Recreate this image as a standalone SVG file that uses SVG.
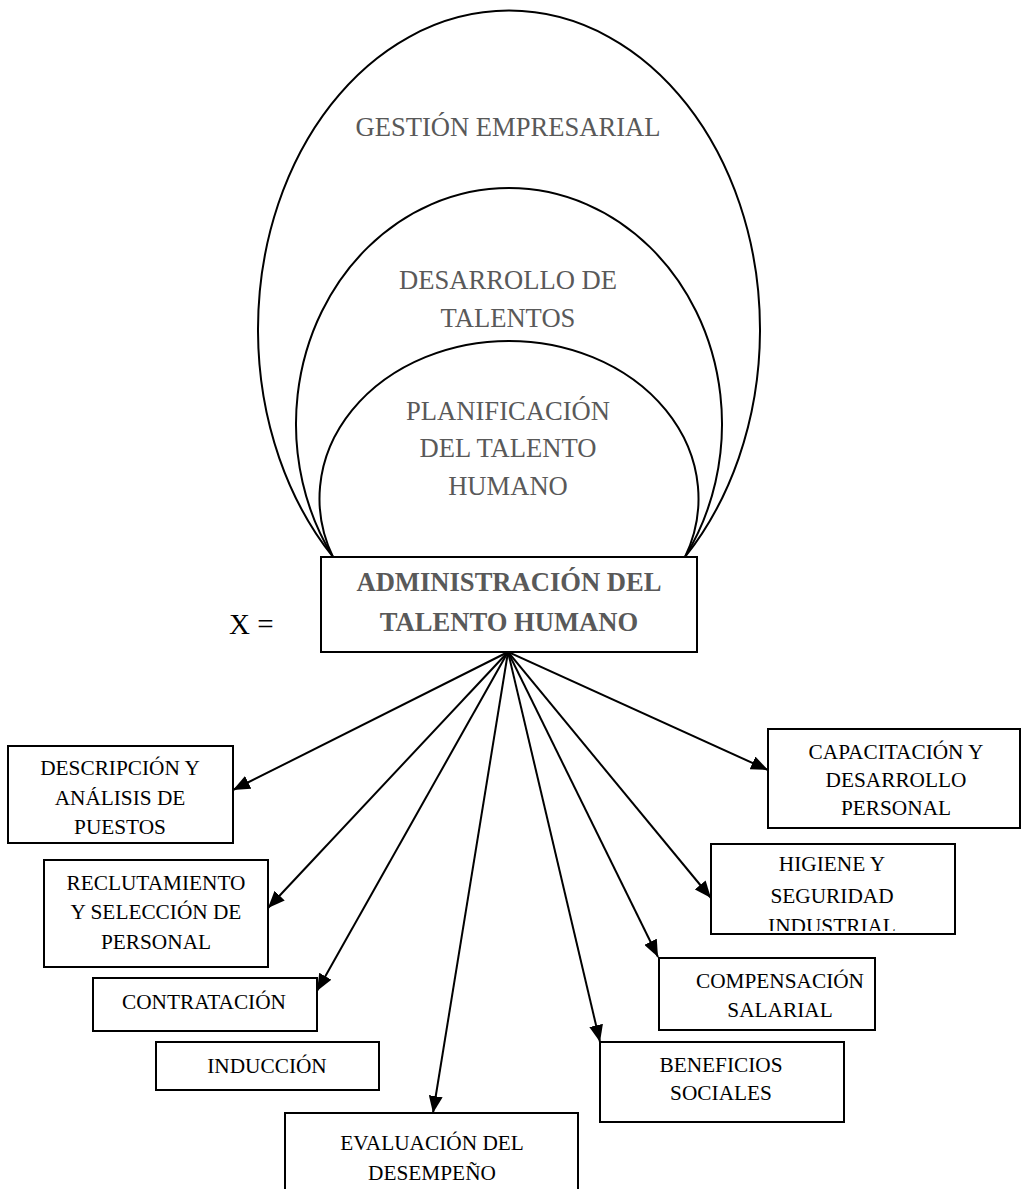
<svg xmlns="http://www.w3.org/2000/svg" width="1022" height="1189" viewBox="0 0 1022 1189">
  <style>
    .arc { fill: none; stroke: #000; stroke-width: 2; }
    .box { fill: #fff; stroke: #000; stroke-width: 2; }
    .ring { font-family: "Liberation Serif", "Times New Roman", serif; font-size: 26.6px; fill: #595959; text-anchor: middle; }
    .main { font-family: "Liberation Serif", "Times New Roman", serif; font-size: 26.6px; font-weight: bold; fill: #595959; text-anchor: middle; }
    .lbl { font-family: "Liberation Serif", "Times New Roman", serif; font-size: 21.3px; fill: #000; text-anchor: middle; }
    .eq { font-family: "Liberation Serif", "Times New Roman", serif; font-size: 29px; fill: #000; }
    .conn { stroke: #000; stroke-width: 2; fill: none; marker-end: url(#head); }
  </style>
  <defs>
    <marker id="head" markerUnits="userSpaceOnUse" markerWidth="18" markerHeight="14" refX="17" refY="7" orient="auto">
      <path d="M0,0 L17,7 L0,14 z" fill="#000"/>
    </marker>
    <clipPath id="clipHigiene">
      <rect x="712" y="845" width="242" height="86"/>
    </clipPath>
  </defs>

  <rect width="1022" height="1189" fill="#fff"/>

  <!-- nested scopes -->
  <g id="gestion">
    <path class="arc" d="M333,557 A251,319 0 1 1 685,557"/>
    <text class="ring" x="508" y="136">GESTIÓN EMPRESARIAL</text>
  </g>
  <g id="desarrollo">
    <path class="arc" d="M333,557 A213,236 0 1 1 685,557"/>
    <text class="ring" x="508" y="289">DESARROLLO DE</text>
    <text class="ring" x="508" y="327">TALENTOS</text>
  </g>
  <g id="planificacion">
    <path class="arc" d="M333,557 A189.5,157.6 0 1 1 685,557"/>
    <text class="ring" x="508" y="420">PLANIFICACIÓN</text>
    <text class="ring" x="508" y="457">DEL TALENTO</text>
    <text class="ring" x="508" y="495">HUMANO</text>
  </g>

  <!-- central node -->
  <g id="administracion">
    <rect class="box" x="321" y="557" width="376" height="95"/>
    <text class="main" x="509" y="591">ADMINISTRACIÓN DEL</text>
    <text class="main" x="509" y="631">TALENTO HUMANO</text>
  </g>
  <text class="eq" x="229" y="634">X =</text>

  <!-- connectors fanning out from the central node -->
  <g id="connectors">
    <line class="conn" x1="508" y1="652" x2="233" y2="790"/>
    <line class="conn" x1="508" y1="652" x2="268" y2="908"/>
    <line class="conn" x1="508" y1="652" x2="317" y2="991"/>
    <line class="conn" x1="508" y1="652" x2="433" y2="1113"/>
    <line class="conn" x1="508" y1="652" x2="600" y2="1042"/>
    <line class="conn" x1="508" y1="652" x2="658" y2="957"/>
    <line class="conn" x1="508" y1="652" x2="711" y2="898"/>
    <line class="conn" x1="508" y1="652" x2="768" y2="770"/>
  </g>

  <!-- subsystems -->
  <g id="descripcion">
    <rect class="box" x="8" y="746" width="225" height="97"/>
    <text class="lbl" x="120" y="775">DESCRIPCIÓN Y</text>
    <text class="lbl" x="120" y="805">ANÁLISIS DE</text>
    <text class="lbl" x="120" y="834">PUESTOS</text>
  </g>
  <g id="reclutamiento">
    <rect class="box" x="44" y="860" width="224" height="107"/>
    <text class="lbl" x="156" y="890">RECLUTAMIENTO</text>
    <text class="lbl" x="156" y="919">Y SELECCIÓN DE</text>
    <text class="lbl" x="156" y="949">PERSONAL</text>
  </g>
  <g id="contratacion">
    <rect class="box" x="93" y="978" width="224" height="53"/>
    <text class="lbl" x="204" y="1009">CONTRATACIÓN</text>
  </g>
  <g id="induccion">
    <rect class="box" x="156" y="1042" width="223" height="48"/>
    <text class="lbl" x="267" y="1073">INDUCCIÓN</text>
  </g>
  <g id="evaluacion">
    <rect class="box" x="285" y="1113" width="293" height="90"/>
    <text class="lbl" x="432" y="1150">EVALUACIÓN DEL</text>
    <text class="lbl" x="432" y="1180">DESEMPEÑO</text>
  </g>
  <g id="capacitacion">
    <rect class="box" x="768" y="729" width="252" height="99"/>
    <text class="lbl" x="896" y="759">CAPACITACIÓN Y</text>
    <text class="lbl" x="896" y="787">DESARROLLO</text>
    <text class="lbl" x="896" y="815">PERSONAL</text>
  </g>
  <g id="higiene">
    <rect class="box" x="711" y="844" width="244" height="90"/>
    <g clip-path="url(#clipHigiene)">
      <text class="lbl" x="832" y="871">HIGIENE Y</text>
      <text class="lbl" x="832" y="903">SEGURIDAD</text>
      <text class="lbl" x="832" y="933">INDUSTRIAL</text>
    </g>
  </g>
  <g id="compensacion">
    <rect class="box" x="659" y="958" width="216" height="72"/>
    <text class="lbl" x="780" y="988">COMPENSACIÓN</text>
    <text class="lbl" x="780" y="1017">SALARIAL</text>
  </g>
  <g id="beneficios">
    <rect class="box" x="600" y="1042" width="244" height="80"/>
    <text class="lbl" x="721" y="1072">BENEFICIOS</text>
    <text class="lbl" x="721" y="1100">SOCIALES</text>
  </g>
</svg>
